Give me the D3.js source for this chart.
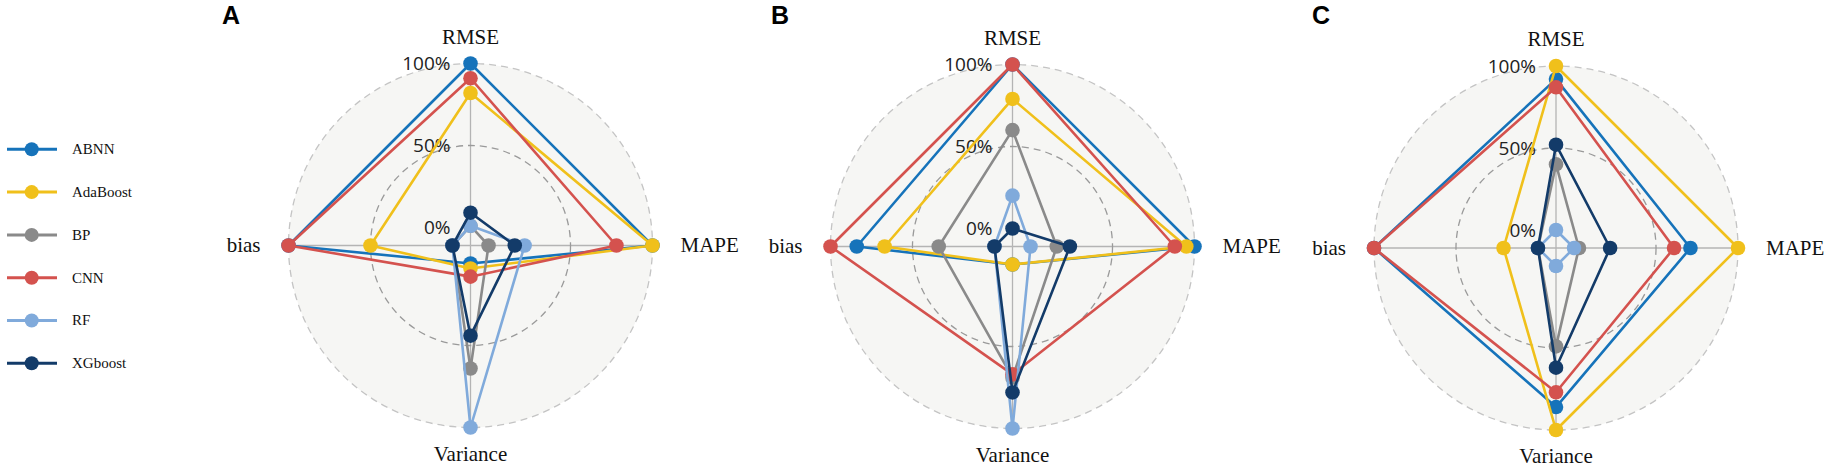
<!DOCTYPE html>
<html>
<head>
<meta charset="utf-8">
<script src="https://cdn.jsdelivr.net/npm/d3@7/dist/d3.min.js"></script>
<style>
  html, body { margin: 0; padding: 0; background: #fff; }
  svg { display: block; }
</style>
</head>
<body>
<svg id="chart" width="1825" height="470"></svg>
<script>
// ---- data ----
const axes = ["RMSE", "MAPE", "Variance", "bias"];
const models = ["ABNN", "AdaBoost", "BP", "CNN", "RF", "XGboost"];
const colors = ["#1673ba", "#f0c01b", "#8a8a8a", "#d4524e", "#80aadb", "#133b69"];
const panelLabels = ["A", "B", "C"];
const tickValues = [0, 0.5, 1];
const tickLabels = ["0%", "50%", "100%"];

// values per model in order RMSE, MAPE, Variance, bias
const panelA = [
  [1.00, 1.00, 0.00, 1.00],
  [0.82, 1.00, 0.03, 0.50],
  [0.01, 0.00, 0.64, 0.00],
  [0.91, 0.78, 0.08, 1.00],
  [0.01, 0.22, 1.00, 0.00],
  [0.09, 0.16, 0.44, 0.00]
];
const panelB = [
  [1.00, 1.00, 0.00, 0.84],
  [0.79, 0.95, 0.00, 0.67],
  [0.60, 0.16, 0.69, 0.34],
  [1.00, 0.88, 0.67, 1.00],
  [0.20, 0.00, 1.00, 0.00],
  [0.00, 0.24, 0.78, 0.00]
];
const panelC = [
  [0.92, 0.71, 0.86, 1.00],
  [1.00, 1.00, 1.00, 0.21],
  [0.40, 0.03, 0.49, 0.00],
  [0.87, 0.61, 0.77, 1.00],
  [0.00, 0.00, 0.00, 0.00],
  [0.52, 0.22, 0.62, 0.00]
];
const panels = [panelA, panelB, panelC];

// ---- layout ----
const centers = [[470.5, 245.5], [1012.5, 246.5], [1556, 248]];
const labelPos = [[222, 24], [771, 24], [1312, 24]];
const R = 182;

const svg = d3.select("#chart");
const rScale = d3.scaleLinear().domain([-0.11, 1]).range([0, R]);
const angle = d3.scalePoint().domain(axes).range([0, 1.5 * Math.PI]);

panels.forEach((data, pi) => {
  const [cx, cy] = centers[pi];
  const g = svg.append("g").attr("transform", `translate(${cx},${cy})`);

  g.append("circle").attr("r", R).attr("fill", "#f6f6f4").attr("stroke", "none");

  // axis spokes
  axes.forEach(a => {
    const t = angle(a);
    g.append("line")
      .attr("x1", 0).attr("y1", 0)
      .attr("x2", R * Math.sin(t)).attr("y2", -R * Math.cos(t))
      .attr("stroke", "#b4b4b4").attr("stroke-width", 1.3);
  });

  // grid circles
  g.append("circle").attr("r", rScale(0.5)).attr("fill", "none")
    .attr("stroke", "#9a9a9a").attr("stroke-width", 1.3).attr("stroke-dasharray", "7,5");
  g.append("circle").attr("r", rScale(1)).attr("fill", "none")
    .attr("stroke", "#c4c4c4").attr("stroke-width", 1.3).attr("stroke-dasharray", "7,5");

  // tick labels
  tickValues.forEach((v, i) => {
    g.append("text")
      .attr("x", -20).attr("y", -rScale(v)).attr("dy", "0.36em")
      .attr("text-anchor", "end")
      .attr("font-family", "'Open Sans', 'Noto Sans', sans-serif")
      .attr("font-size", 19).attr("fill", "#222")
      .text(tickLabels[i]);
  });

  // axis labels
  const lf = "'Liberation Serif', 'Times New Roman', serif";
  g.append("text").attr("x", 0).attr("y", -202).attr("text-anchor", "middle")
    .attr("font-family", lf).attr("font-size", 21).attr("fill", "#111").text(axes[0]);
  g.append("text").attr("x", 210).attr("y", 0).attr("dy", "0.33em").attr("text-anchor", "start")
    .attr("font-family", lf).attr("font-size", 21).attr("fill", "#111").text(axes[1]);
  g.append("text").attr("x", 0).attr("y", 215).attr("text-anchor", "middle")
    .attr("font-family", lf).attr("font-size", 21).attr("fill", "#111").text(axes[2]);
  g.append("text").attr("x", -210).attr("y", 0).attr("dy", "0.33em").attr("text-anchor", "end")
    .attr("font-family", lf).attr("font-size", 21).attr("fill", "#111").text(axes[3]);

  // series
  const line = d3.lineRadial()
    .angle((d, i) => angle(axes[i]))
    .radius(d => rScale(d))
    .curve(d3.curveLinearClosed);

  data.forEach((vals, si) => {
    const sg = g.append("g");
    sg.append("path").attr("d", line(vals)).attr("fill", "none")
      .attr("stroke", colors[si]).attr("stroke-width", 2.6).attr("stroke-linejoin", "round");
    vals.forEach((v, i) => {
      const t = angle(axes[i]);
      sg.append("circle")
        .attr("cx", rScale(v) * Math.sin(t)).attr("cy", -rScale(v) * Math.cos(t))
        .attr("r", 7.3).attr("fill", colors[si]);
    });
  });

  // panel label
  svg.append("text").attr("x", labelPos[pi][0]).attr("y", labelPos[pi][1])
    .attr("font-family", "'Liberation Sans', Arial, sans-serif").attr("font-weight", "bold")
    .attr("font-size", 25).attr("fill", "#000").text(panelLabels[pi]);
});

// legend
const legY = d3.scalePoint().domain(models).range([149.3, 363.3]);
const leg = svg.append("g");
models.forEach((m, i) => {
  const y = legY(m);
  leg.append("line").attr("x1", 7).attr("x2", 57).attr("y1", y).attr("y2", y)
    .attr("stroke", colors[i]).attr("stroke-width", 3);
  leg.append("circle").attr("cx", 31.7).attr("cy", y).attr("r", 7).attr("fill", colors[i]);
  leg.append("text").attr("x", 72).attr("y", y).attr("dy", "0.33em")
    .attr("font-family", "'Liberation Serif', 'Times New Roman', serif")
    .attr("font-size", 15).attr("fill", "#111").text(m);
});
</script>
</body>
</html>
